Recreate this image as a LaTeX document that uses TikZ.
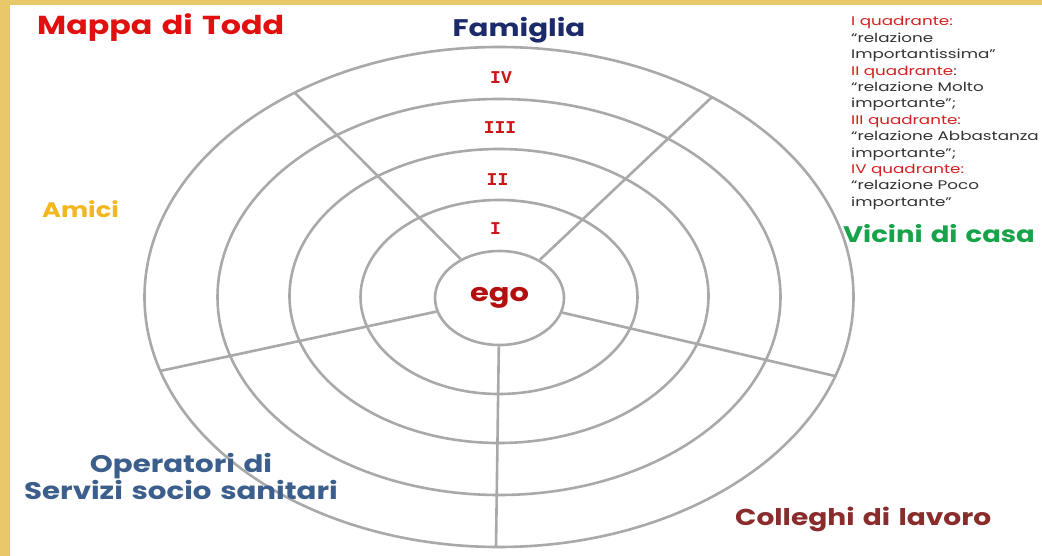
\documentclass[tikz,border=0pt]{standalone}
\usepackage{fontspec}
\setmainfont{Poppins}
\newfontfamily\comic[FakeStretch=1.22, WordSpace=1.4]{Poppins}
\newfontfamily\legfont[FakeStretch=1.34]{Poppins}
\newfontfamily\monof{Liberation Mono}
\usetikzlibrary{shapes.geometric}
\definecolor{gold}{HTML}{E9C86A}
\definecolor{ringc}{HTML}{A9A9A9}
\definecolor{titlered}{HTML}{E01010}
\definecolor{navy}{HTML}{1B2A6B}
\definecolor{romred}{HTML}{CC1616}
\definecolor{egored}{HTML}{B30F0F}
\definecolor{amici}{HTML}{F2B61E}
\definecolor{vicini}{HTML}{16A34A}
\definecolor{operat}{HTML}{3B5E8C}
\definecolor{colleg}{HTML}{8A2C2C}
\definecolor{legtext}{HTML}{333333}
\definecolor{legred}{HTML}{D42020}
\begin{document}
\begin{tikzpicture}[x=1pt,y=-1pt,
  ringstyle/.style={draw=ringc, line width=2.6pt, ellipse, inner sep=0pt},
  spoke/.style={draw=ringc, line width=2.6pt},
  lab/.style={inner sep=0pt},
  roman/.style={inner sep=0pt, text=romred, font=\monof\bfseries\fontsize{18}{20}\selectfont}]
\fill[white] (0,0) rectangle (1042,556);
\useasboundingbox (0,0) rectangle (1042,556);
\fill[gold] (0,0) rectangle (1042,5);
\fill[gold] (0,0) rectangle (10,556);
% rings
\node[ringstyle, minimum width=709pt, minimum height=500pt] (r4) at (499,297) {};
\node[ringstyle, minimum width=563pt, minimum height=396pt] (r3) at (499,297) {};
\node[ringstyle, minimum width=419pt, minimum height=294pt] (r2) at (499,296) {};
\node[ringstyle, minimum width=277pt, minimum height=194pt] (r1) at (499,297) {};
\node[ringstyle, minimum width=129pt, minimum height=94pt, text=egored,
      font=\comic\bfseries\fontsize{25}{25}\selectfont] (ego) at (499.5,298) {ego};
% spokes
\coordinate (p1) at (295,93);
\coordinate (p2) at (712,97);
\coordinate (p3) at (160,371);
\coordinate (p4) at (835,376);
\coordinate (p5) at (496,547);
\foreach \p in {p1,p2,p3,p4,p5} \draw[spoke] (ego) -- (\p);
% roman numerals
\node[roman] (qIV) at (501,78) {IV};
\node[roman] (qIII) at (500,127.5) {III};
\node[roman] (qII) at (497.5,180) {II};
\node[roman] (qI) at (495.5,229) {I};
% labels
\node[lab, text=titlered, anchor=base west, font=\comic\bfseries\fontsize{26}{26}\selectfont] (title) at (37,35) {Mappa di Todd};
\node[lab, text=navy, anchor=base, font=\comic\bfseries\fontsize{24}{24}\selectfont] (fam) at (519,37) {Famiglia};
\node[lab, text=amici, anchor=base west, font=\comic\bfseries\fontsize{21}{21}\selectfont] (amici) at (42,218) {Amici};
\node[lab, text=vicini, anchor=base west, font=\comic\bfseries\fontsize{22.5}{24}\selectfont] (vicini) at (843,243) {Vicini di casa};
\node[lab, text=operat, align=center, anchor=base, font=\comic\bfseries\fontsize{24}{24}\selectfont] (oper) at (181,499) {Operatori di\\Servizi socio sanitari};
\node[lab, text=colleg, anchor=base west, font=\comic\bfseries\fontsize{23}{24}\selectfont] (coll) at (735,525) {Colleghi di lavoro};
% legend
\node[anchor=north west, inner sep=0pt, align=left, text=legtext,
      font=\legfont\fontsize{12.5}{16.4}\selectfont] (legend) at (851,16.5) {%
{\color{legred}I quadrante:}\\
“relazione\\
Importantissima”\\
{\color{legred}II quadrante}:\\
“relazione Molto\\
importante”;\\
{\color{legred}III quadrante:}\\
“relazione Abbastanza\\
importante”;\\
{\color{legred}IV quadrante:}\\
“relazione Poco\\
importante”};
\end{tikzpicture}
\end{document}
